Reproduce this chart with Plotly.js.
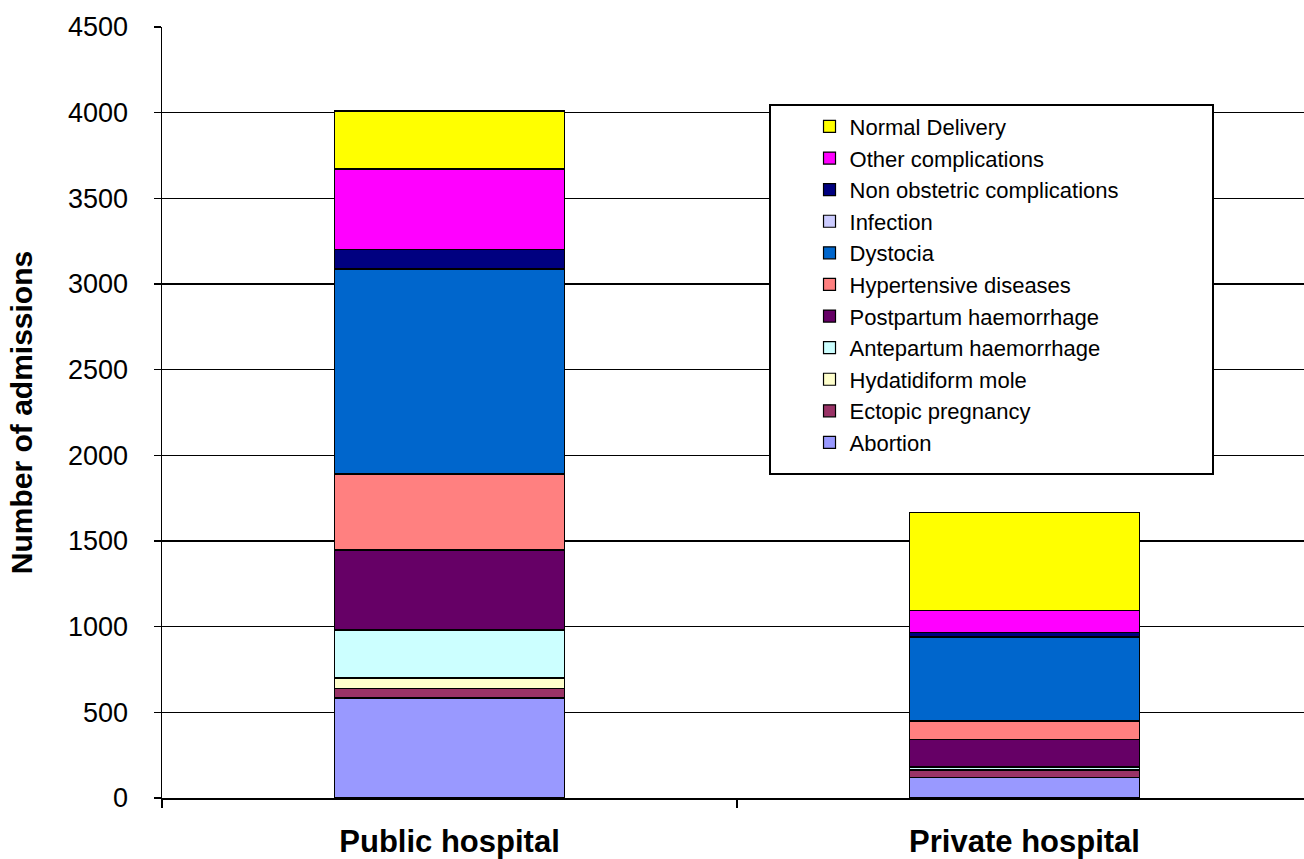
<!DOCTYPE html>
<html>
<head>
<meta charset="utf-8">
<script src="https://cdn.plot.ly/plotly-3.0.1.min.js"></script>
<style>
html,body{margin:0;padding:0;background:#fff;overflow:hidden;}
#chart{width:1304px;height:859px;}
</style>
</head>
<body>
<div id="chart"></div>
<script>
// Categories
const categories = ["Public hospital", "Private hospital"];

// Series names (stacking order, bottom to top)
const seriesNames = [
  "Abortion",
  "Ectopic pregnancy",
  "Hydatidiform mole",
  "Antepartum haemorrhage",
  "Postpartum haemorrhage",
  "Hypertensive diseases",
  "Dystocia",
  "Infection",
  "Non obstetric complications",
  "Other complications",
  "Normal Delivery"
];

// Values per series: [Public, Private]
const abortion      = [584, 121];
const ectopic       = [53, 40];
const hydatidiform  = [63, 5];
const antepartum    = [281, 15];
const postpartum    = [467, 160];
const hypertensive  = [443, 109];
const dystocia      = [1195, 490];
const infection     = [5, 3];
const nonObstetric  = [109, 22];
const otherComp     = [471, 128];
const normalDel     = [339, 572];

const seriesValues = [abortion, ectopic, hydatidiform, antepartum, postpartum,
  hypertensive, dystocia, infection, nonObstetric, otherComp, normalDel];

const colors = ["#9999FF", "#993366", "#FFFFCC", "#CCFFFF", "#660066",
  "#FF8080", "#0066CC", "#CCCCFF", "#000080", "#FF00FF", "#FFFF00"];

const yTicks = [0, 500, 1000, 1500, 2000, 2500, 3000, 3500, 4000, 4500];

const traces = seriesNames.map((name, i) => ({
  type: "bar",
  name: name,
  x: categories,
  y: seriesValues[i],
  width: 0.4,
  marker: {color: colors[i], line: {color: "#000000", width: 1.2}},
  hoverinfo: "name+y"
}));

const layout = {
  width: 1304,
  height: 859,
  margin: {l: 162, r: 0, t: 27, b: 61, pad: 0},
  paper_bgcolor: "#ffffff",
  plot_bgcolor: "#ffffff",
  barmode: "stack",
  showlegend: true,
  font: {family: "Liberation Sans, Arial, sans-serif", color: "#000"},
  xaxis: {
    type: "category",
    range: [-0.5, 1.486],
    showgrid: false,
    showline: true,
    linecolor: "#000",
    linewidth: 1.5,
    ticks: "outside",
    tickson: "boundaries",
    ticklen: 8,
    tickwidth: 1.5,
    tickcolor: "#000",
    ticklabelstandoff: 15,
    tickfont: {family: "Liberation Sans, Arial, sans-serif", size: 31, weight: 700, color: "#000"},
    fixedrange: true,
    automargin: false
  },
  yaxis: {
    range: [0, 4500],
    tickvals: yTicks,
    ticktext: yTicks.map(String),
    showgrid: true,
    gridcolor: "#000",
    gridwidth: 1.5,
    zeroline: false,
    showline: true,
    linecolor: "#000",
    linewidth: 1.5,
    ticks: "outside",
    ticklen: 7,
    tickwidth: 1.5,
    tickcolor: "#000",
    ticklabelstandoff: 20,
    tickfont: {family: "Liberation Sans, Arial, sans-serif", size: 27, color: "#000"},
    title: {text: "Number of admissions", font: {family: "Liberation Sans, Arial, sans-serif", size: 30, weight: 700, color: "#000"}, standoff: 26},
    fixedrange: true,
    automargin: false
  },
  legend: {
    x: 0.567,
    y: 0.898,
    xanchor: "left",
    yanchor: "top",
    traceorder: "reversed",
    bgcolor: "rgba(0,0,0,0)",
    borderwidth: 0,
    font: {family: "Liberation Sans, Arial, sans-serif", size: 22, color: "#000"},
    itemclick: false,
    itemdoubleclick: false
  },
  shapes: [{
    type: "rect",
    xref: "paper", yref: "paper",
    x0: (770 - 162) / 1142, x1: (1213 - 162) / 1142,
    y0: 1 - (474 - 27) / 771, y1: 1 - (105 - 27) / 771,
    fillcolor: "#ffffff",
    line: {color: "#000", width: 2},
    layer: "above"
  }]
};

Plotly.newPlot("chart", traces, layout, {displayModeBar: false, staticPlot: true});
</script>
</body>
</html>
